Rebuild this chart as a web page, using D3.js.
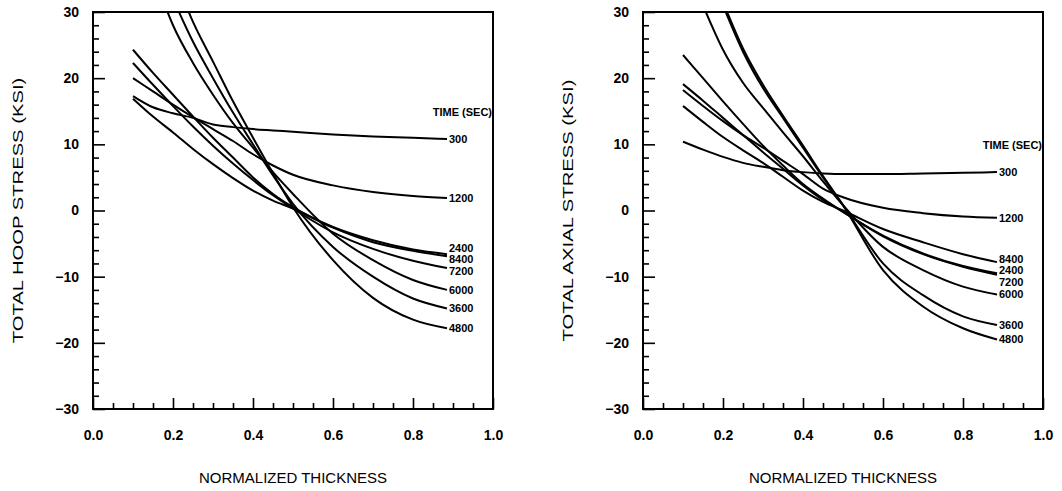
<!DOCTYPE html>
<meta charset="utf-8">
<style>
  body { margin: 0; background: #fff; }
  text { font-family: "Liberation Sans", Arial, sans-serif; fill: #000; }
  .tick text { font-weight: bold; font-size: 14px; }
  .tick line { stroke: #000; stroke-width: 1.6px; }
  .frame { fill: none; stroke: #000; stroke-width: 2px; }
  .curve { fill: none; stroke: #000; stroke-width: 2px; }
  .lbl { font-weight: bold; font-size: 11px; }
  .title { font-size: 15px; }
</style>
<body>
<script src="https://d3js.org/d3.v7.min.js"></script>
<script>
// normalized thickness grid shared by every curve
var thickness = [0.10, 0.15, 0.20, 0.25, 0.30, 0.35, 0.40, 0.45, 0.50, 0.60, 0.70, 0.80, 0.885];
var xTicks = [0.0, 0.2, 0.4, 0.6, 0.8, 1.0];
var yTicks = [-30, -20, -10, 0, 10, 20, 30];

// hoop stress (ksi) by time (sec)
var hoopTimes = ["300", "1200", "2400", "8400", "7200", "6000", "3600", "4800"];
var hoop300  = [17.3, 15.6, 14.7, 14.0, 13.0, 12.6, 12.3, 12.1, 11.9, 11.5, 11.2, 11.0, 10.8];
var hoop1200 = [20.0, 18.0, 16.0, 14.1, 12.3, 10.5, 8.5, 6.8, 5.4, 3.8, 2.8, 2.2, 1.9];
var hoop2400 = [24.3, 20.8, 17.5, 14.2, 11.0, 8.0, 5.0, 2.5, 0.5, -2.5, -4.5, -5.9, -6.6];
var hoop8400 = [16.9, 14.2, 11.8, 9.3, 7.0, 4.9, 3.0, 1.5, 0.3, -2.6, -4.8, -6.1, -6.9];
var hoop7200 = [22.3, 19.0, 15.8, 12.7, 9.8, 7.1, 4.6, 2.3, 0.3, -3.3, -5.8, -7.6, -8.7];
var hoop6000 = [null, 36.0, 28.0, 22.3, 17.5, 13.2, 9.5, 5.8, 2.5, -3.5, -7.5, -10.5, -12.0];
var hoop3600 = [null, null, 32.0, 25.5, 20.0, 14.8, 10.0, 5.3, 1.0, -5.5, -10.0, -13.3, -14.8];
var hoop4800 = [null, null, 36.0, 28.5, 22.5, 16.5, 11.0, 5.6, 0.5, -7.5, -13.2, -16.5, -17.8];

// axial stress (ksi) by time (sec)
var axialTimes = ["300", "1200", "8400", "2400", "7200", "6000", "3600", "4800"];
var axial300  = [10.4, 9.2, 8.1, 7.2, 6.6, 6.1, 5.8, 5.6, 5.5, 5.5, 5.6, 5.7, 5.8];
var axial1200 = [18.2, 15.8, 13.5, 11.4, 9.5, 7.5, 5.5, 3.3, 2.0, 0.4, -0.4, -0.9, -1.1];
var axial8400 = [15.8, 13.4, 11.1, 9.1, 7.2, 5.1, 3.0, 1.3, 0.0, -2.8, -4.8, -6.6, -7.8];
var axial2400 = [23.5, 20.0, 16.5, 13.1, 9.8, 6.8, 4.0, 1.8, -0.2, -3.8, -6.5, -8.4, -9.5];
var axial7200 = [19.1, 16.6, 14.0, 11.4, 8.8, 6.3, 3.8, 1.6, -0.2, -3.9, -6.6, -8.5, -9.7];
var axial6000 = [null, 31.0, 24.3, 19.3, 15.5, 11.8, 8.2, 4.4, 0.8, -5.5, -9.0, -11.5, -12.7];
var axial3600 = [null, null, 31.0, 24.0, 18.5, 14.0, 9.5, 5.0, 0.8, -8.0, -12.8, -16.0, -17.3];
var axial4800 = [null, null, 31.5, 24.5, 19.0, 14.3, 9.8, 5.2, 0.8, -9.0, -14.5, -17.8, -19.5];

var width = 1062, height = 491;
var svg = d3.select("body").append("svg")
    .attr("width", width)
    .attr("height", height);

function panel(id, left, yTitle, times, series) {
  var w = 400, h = 397, top = 12;
  var x = d3.scaleLinear().domain([0, 1]).range([0, w]);
  var y = d3.scaleLinear().domain([-30, 30]).range([h, 0]);
  var g = svg.append("g").attr("transform", "translate(" + left + "," + top + ")");

  g.append("clipPath").attr("id", "clip" + id)
    .append("rect").attr("width", w).attr("height", h);

  // minor ticks
  g.append("g").attr("transform", "translate(0," + h + ")")
    .call(d3.axisBottom(x).tickValues(d3.range(0.05, 1, 0.05).filter(function(v) { return Math.abs(v * 5 - Math.round(v * 5)) > 0.01; }))
      .tickSize(-6).tickFormat(""))
    .call(function(a) { a.select(".domain").remove(); });
  g.append("g")
    .call(d3.axisLeft(y).tickValues(d3.range(-28, 30, 2).filter(function(v) { return v % 10 != 0; }))
      .tickSize(-6).tickFormat(""))
    .call(function(a) { a.select(".domain").remove(); });

  // major ticks + labels
  g.append("g").attr("transform", "translate(0," + h + ")")
    .call(d3.axisBottom(x).tickValues(xTicks).tickSize(-11).tickPadding(21).tickFormat(d3.format(".1f")))
    .call(function(a) { a.select(".domain").remove(); });
  g.append("g")
    .call(d3.axisLeft(y).tickValues(yTicks).tickSize(-12).tickPadding(14).tickFormat(d3.format("d")))
    .call(function(a) { a.select(".domain").remove(); });

  g.append("rect").attr("class", "frame").attr("width", w).attr("height", h);

  var line = d3.line()
    .defined(function(d) { return d[1] != null; })
    .x(function(d) { return x(d[0]); })
    .y(function(d) { return y(d[1]); })
    .curve(d3.curveMonotoneX);

  var data = times.map(function(t, i) {
    return { time: t, pts: thickness.map(function(v, j) { return [v, series[i][j]]; }) };
  });

  g.append("g").attr("clip-path", "url(#clip" + id + ")")
    .selectAll("path").data(data)
    .enter().append("path")
      .attr("class", "curve")
      .attr("d", function(d) { return line(d.pts); });

  // end labels, pushed apart so they don't overlap
  var last = thickness.length - 1;
  var lbls = data.map(function(d) { return { time: d.time, y: y(d.pts[last][1]) }; });
  lbls.sort(function(a, b) { return a.y - b.y; });
  for (var k = 0; k < 40; k++) {
    for (var i = 1; i < lbls.length; i++) {
      var gap = lbls[i].y - lbls[i - 1].y;
      if (gap < 11.5) {
        var m = (11.5 - gap) / 2;
        lbls[i].y += m; lbls[i - 1].y -= m;
      }
    }
  }
  g.selectAll(".lbl").data(lbls)
    .enter().append("text")
      .attr("class", "lbl")
      .attr("x", x(thickness[last]) + 2)
      .attr("y", function(d) { return d.y; })
      .attr("dy", "0.36em")
      .text(function(d) { return d.time; });

  var y300 = lbls.filter(function(d) { return d.time == "300"; })[0].y;
  g.append("text").attr("class", "lbl")
    .attr("x", w - 1).attr("y", y300 - 27).attr("dy", "0.36em")
    .attr("text-anchor", "end")
    .text("TIME (SEC)");

  g.append("text").attr("class", "title")
    .attr("x", w / 2).attr("y", 471)
    .attr("text-anchor", "middle")
    .text("NORMALIZED THICKNESS");

  // the scanned figure is stretched vertically, so the y title runs long
  g.append("text").attr("class", "title")
    .attr("transform", "translate(-75," + (h / 2) + ") rotate(-90) scale(1.35,1)")
    .attr("dy", "0.36em")
    .attr("text-anchor", "middle")
    .text(yTitle);
}

panel("a", 93, "TOTAL HOOP STRESS (KSI)", hoopTimes,
  [hoop300, hoop1200, hoop2400, hoop8400, hoop7200, hoop6000, hoop3600, hoop4800]);
panel("b", 643, "TOTAL AXIAL STRESS (KSI)", axialTimes,
  [axial300, axial1200, axial8400, axial2400, axial7200, axial6000, axial3600, axial4800]);
</script>
